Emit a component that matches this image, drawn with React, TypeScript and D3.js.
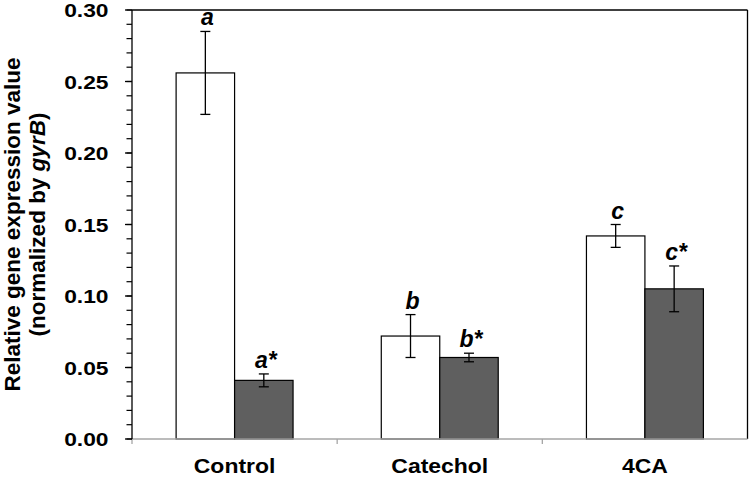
import React from 'react';
import * as d3 from 'd3';

const categories = ['Control', 'Catechol', '4CA'];
const seriesA = [0.256, 0.072, 0.142];
const errA = [0.029, 0.015, 0.008];
const seriesB = [0.041, 0.057, 0.105];
const errB = [0.0045, 0.003, 0.016];
const labelsA = ['a', 'b', 'c'];
const labelsB = ['a*', 'b*', 'c*'];
const yTicks = [0, 0.05, 0.1, 0.15, 0.2, 0.25, 0.3];
const yMinor = d3.range(0, 0.3001, 0.01);

const W = 750, H = 477;
const left = 132, right = 747.5, top = 10, bottom = 439;
const FONT = "Arial, 'Liberation Sans', Helvetica, sans-serif";

export default function App() {
  const x = d3.scaleBand<string>().domain(categories).range([left, right]).padding(0);
  const y = d3.scaleLinear().domain([0, 0.3]).range([bottom, top]);
  const gw = x.bandwidth() * 0.57;
  const sub = d3.scaleBand<string>().domain(['A', 'B']).range([0, gw]).padding(0);
  const bw = sub.bandwidth();

  const series = [
    { key: 'A', vals: seriesA, errs: errA, labels: labelsA, fill: '#ffffff' },
    { key: 'B', vals: seriesB, errs: errB, labels: labelsB, fill: '#5f5f5f' },
  ];

  return (
    <svg width={W} height={H} style={{ position: 'absolute', left: 0, top: 0, background: '#fff' }} fontFamily={FONT}>
      <rect x={0} y={0} width={W} height={H} fill="#fff" />
      {/* frame top & right */}
      <line x1={left} x2={right} y1={top} y2={top} stroke="#000" strokeWidth={1.3} />
      <line x1={right} x2={right} y1={top} y2={bottom} stroke="#000" strokeWidth={1.3} />
      {/* bars */}
      {series.map((s) =>
        categories.map((c, i) => {
          const x0 = (x(c) as number) + x.bandwidth() / 2 - gw / 2 + (sub(s.key) as number);
          const v = s.vals[i];
          const e = s.errs[i];
          const cx = x0 + bw / 2;
          return (
            <g key={s.key + c}>
              <rect x={x0} y={y(v)} width={bw} height={bottom - y(v)} fill={s.fill} stroke="#000" strokeWidth={1.2} />
              <line x1={cx} x2={cx} y1={y(v + e)} y2={y(v - e)} stroke="#000" strokeWidth={1.3} />
              <line x1={cx - 5} x2={cx + 5} y1={y(v + e)} y2={y(v + e)} stroke="#000" strokeWidth={1.3} />
              <line x1={cx - 5} x2={cx + 5} y1={y(v - e)} y2={y(v - e)} stroke="#000" strokeWidth={1.3} />
              <text
                x={cx + 2}
                y={y(v + e) - 6}
                textAnchor="middle"
                fontSize={23}
                fontWeight="bold"
                fontStyle="italic"
                fill="#000"
              >
                {s.labels[i]}
              </text>
            </g>
          );
        })
      )}
      {/* x axis */}
      <line x1={left} x2={right} y1={bottom} y2={bottom} stroke="#a6a6a6" strokeWidth={1.5} />
      {[left, ...categories.map((c) => (x(c) as number) + x.bandwidth())].slice(0, 3).map((t, i) => (
        <line key={i} x1={t} x2={t} y1={bottom} y2={bottom + 5} stroke="#a6a6a6" strokeWidth={1.3} />
      ))}
      {categories.map((c) => (
        <text
          key={c}
          transform={`translate(${(x(c) as number) + x.bandwidth() / 2},472.5) scale(1.12,1)`}
          textAnchor="middle"
          fontSize={20.5}
          fontWeight="bold"
          fill="#000"
        >
          {c}
        </text>
      ))}
      {/* y axis */}
      <line x1={left} x2={left} y1={top} y2={bottom} stroke="#000" strokeWidth={1.3} />
      {yMinor.map((t, i) => (
        <line key={i} x1={left - 5.5} x2={left} y1={y(t)} y2={y(t)} stroke="#000" strokeWidth={1.2} />
      ))}
      {yTicks.map((t) => (
        <g key={t}>
          <line x1={left - 7} x2={left} y1={y(t)} y2={y(t)} stroke="#000" strokeWidth={1.3} />
          <text
            transform={`translate(108.5,${y(t) + 7.2}) scale(1.2,1)`}
            textAnchor="end"
            fontSize={19}
            fontWeight="bold"
            fill="#000"
          >
            {d3.format('.2f')(t)}
          </text>
        </g>
      ))}
      {/* y title */}
      <text transform={`translate(19.5,${(top + bottom) / 2}) rotate(-90)`} textAnchor="middle" fontSize={22.5} fontWeight="bold" fill="#000">
        Relative gene expression value
      </text>
      <text transform={`translate(45,${(top + bottom) / 2}) rotate(-90)`} textAnchor="middle" fontSize={22.5} fontWeight="bold" fill="#000">
        (normalized by <tspan fontStyle="italic">gyrB</tspan>)
      </text>
    </svg>
  );
}
